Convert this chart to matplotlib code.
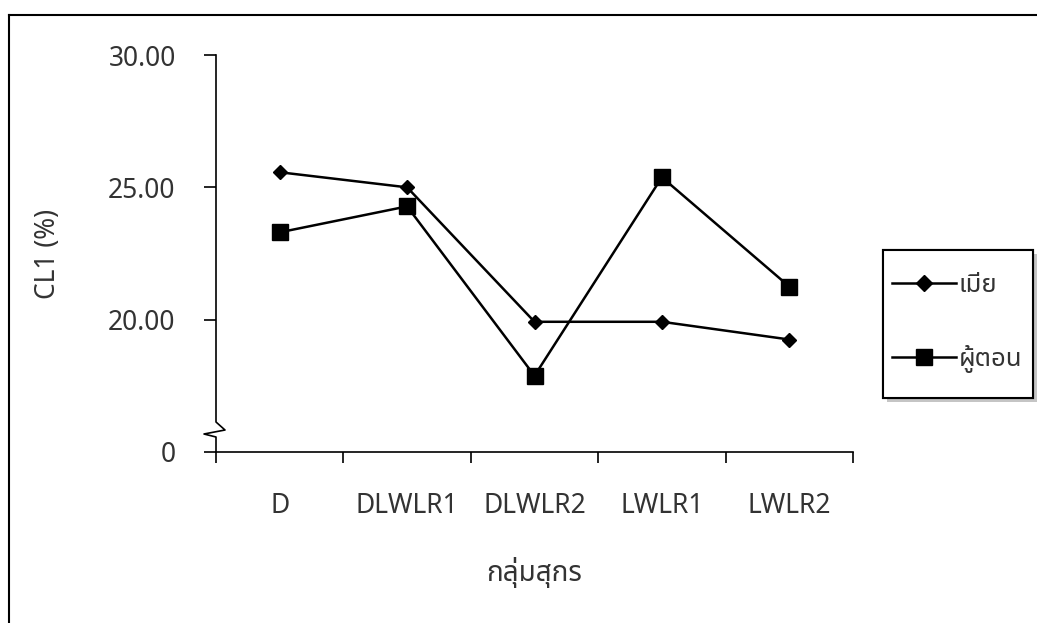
import matplotlib
matplotlib.use('Agg')
import matplotlib.pyplot as plt
import matplotlib.patheffects as pe
from matplotlib.lines import Line2D
from matplotlib.patches import Rectangle

plt.rcParams['font.family'] = ['Noto Sans Thai', 'DejaVu Sans']
plt.rcParams['font.weight'] = 'light'

groups = ['D', 'DLWLR1', 'DLWLR2', 'LWLR1', 'LWLR2']
female = [25.57, 25.00, 19.92, 19.92, 19.25]    # เมีย
barrow = [23.30, 24.28, 17.88, 25.38, 21.25]    # ผู้ตอน
y_ticks = [15, 20, 25, 30]
y_labels = ['0', '20.00', '25.00', '30.00']

text_color = '#333333'
W, H = 1037, 623

fig = plt.figure(figsize=(10.37, 6.23), dpi=100)
ax = fig.add_axes([216 / W, 1 - 452 / H, 637 / W, 397 / H])

x = range(len(groups))
ax.plot(x, female, '-D', color='black', lw=1.8, ms=7.5, label='เมีย')
ax.plot(x, barrow, '-s', color='black', lw=1.8, ms=12, label='ผู้ตอน')

ax.set_xlim(-0.5, len(groups) - 0.5)
ax.set_ylim(15, 30)

# category boundaries get the tick marks, names sit between them
ax.set_xticks([i - 0.5 for i in range(len(groups) + 1)])
ax.set_xticklabels([])
ax.set_xticks(list(x), minor=True)
ax.set_xticklabels(groups, minor=True)
ax.tick_params(axis='x', which='major', direction='out', length=8, width=1.2)
ax.tick_params(axis='x', which='minor', length=0, pad=29, labelsize=19,
               labelcolor=text_color)

ax.set_yticks(y_ticks)
ax.set_yticklabels(y_labels)
ax.tick_params(axis='y', direction='out', length=9, width=1.2, pad=20,
               labelsize=19, labelcolor=text_color)

for s in ['top', 'right', 'left']:
    ax.spines[s].set_visible(False)
ax.spines['bottom'].set_linewidth(1.2)

# left axis with a break symbol near the bottom
def px(xp, yp):
    return ((xp - 216) / 637, (452 - yp) / 397)

pts = [px(216, 55), px(216, 422), px(225, 430), px(204, 434), px(216, 437), px(216, 452)]
ax.add_line(Line2D([p[0] for p in pts], [p[1] for p in pts], color='black',
                   lw=1.2, transform=ax.transAxes, clip_on=False))

ax.set_xlabel('กลุ่มสุกร', fontsize=20, color=text_color)
ax.xaxis.set_label_coords(0.5, -0.265)
ax.set_ylabel('CL1 (%)', fontsize=19, color=text_color)
ax.yaxis.set_label_coords(-0.242, 0.5)

# legend box with soft shadow, entries placed inside it
box = Rectangle((883 / W, 1 - 398 / H), 150 / W, 148 / H, transform=fig.transFigure,
                facecolor='white', edgecolor='black', lw=1.5, zorder=-1,
                path_effects=[pe.withSimplePatchShadow(offset=(3, -3), shadow_rgbFace='gray', alpha=0.45),
                              pe.Normal()])
fig.add_artist(box)

leg = ax.legend(loc='center', bbox_to_anchor=(957 / W, 1 - 323 / H),
                bbox_transform=fig.transFigure, fontsize=18.5, frameon=False,
                labelspacing=1.8, handlelength=2.5, handletextpad=0.1,
                borderpad=0, borderaxespad=0)
for t in leg.get_texts():
    t.set_color(text_color)
for h in leg.legend_handles:
    h.set_markersize(11 if h.get_marker() == 's' else 8.5)

# page frame
fig.add_artist(Line2D([9 / W, 1], [1 - 14.5 / H, 1 - 14.5 / H], color='black', lw=1.5))
fig.add_artist(Line2D([9 / W, 9 / W], [0, 1 - 14.5 / H], color='black', lw=1.5))

fig.savefig('out.png', dpi=100)
